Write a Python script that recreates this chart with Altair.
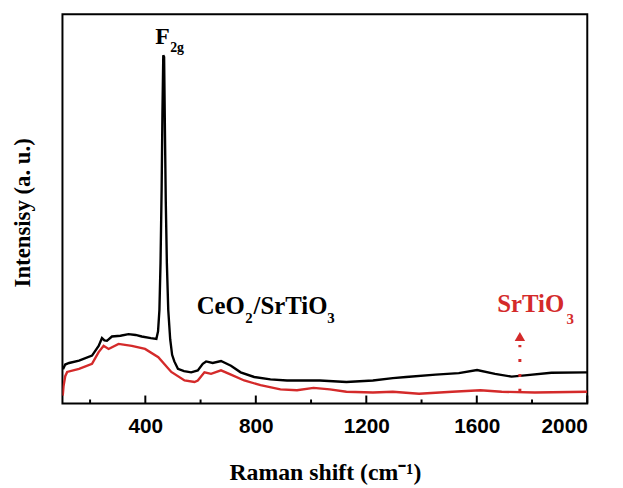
import altair as alt
import pandas as pd

# CeO2/SrTiO3 spectrum (black)
black_x = [102, 110, 124, 160, 207, 231, 243, 252, 261, 279, 310, 339, 365, 387, 420, 440,
           446, 451, 455, 459, 462, 465, 468, 471, 474, 478, 483, 490, 497, 505, 518, 540,
           566, 590, 608, 620, 644, 674, 710, 745, 794, 853, 913, 1032, 1128, 1224, 1296,
           1344, 1451, 1535, 1601, 1666, 1726, 1774, 1870, 2000]
black_y = [8.8, 10.0, 10.4, 11.0, 12.3, 14.8, 16.8, 16.2, 16.1, 17.2, 17.4, 17.8, 17.6, 17.2, 16.8, 16.6,
           18.5, 24, 36, 55, 75, 89.5, 89, 70, 52, 36, 24, 16.5, 12.5, 10.8, 8.9, 8.3,
           8.0, 8.5, 10.2, 10.8, 10.4, 10.9, 9.7, 8.0, 6.8, 6.2, 5.9, 5.9, 5.5, 5.9, 6.5,
           6.8, 7.4, 7.8, 8.6, 7.6, 6.9, 7.2, 7.9, 8.0]

# SrTiO3 spectrum (red)
red_x = [101, 104, 110, 117, 160, 207, 231, 249, 267, 303, 351, 399, 447, 494, 542, 578,
         590, 614, 638, 674, 710, 758, 817, 889, 949, 1009, 1068, 1128, 1224, 1296, 1391,
         1511, 1613, 1690, 1810, 2000]
red_y = [2.0, 4.5, 7.0, 8.1, 8.9, 10.2, 13.2, 14.8, 14.0, 15.3, 14.8, 14.0, 11.9, 8.1, 5.9, 5.5,
         5.9, 8.0, 7.6, 8.5, 7.4, 5.9, 4.7, 3.6, 3.4, 4.0, 3.6, 3.0, 2.8, 3.0, 2.5,
         3.0, 3.4, 3.0, 2.8, 3.0]

series_names = ["CeO2/SrTiO3", "SrTiO3"]
series_colors = ["#000000", "#d42a2a"]

tick_major = [400, 800, 1200, 1600, 2000]
tick_minor = [200, 600, 1000, 1400, 1800]

# annotation pieces (text, x, y, size, color)
ann_text = ["F", "2g", "CeO", "2", "/SrTiO", "3", "SrTiO", "3"]
ann_x = [436, 490, 586, 762, 792, 1059, 1674, 1925]
ann_y = [92.4, 90.3, 22.9, 20.6, 22.9, 20.6, 23.4, 20.4]
ann_size = [24, 14, 25, 15, 25, 15, 25, 15]
ann_color = ["#000000", "#000000", "#000000", "#000000", "#000000", "#000000", "#d42a2a", "#d42a2a"]

arrow_x = [1756]
arrow_y_low = [3.0]
arrow_y_high = [15.0]
arrow_head_y = [17.2]

df = pd.concat([
    pd.DataFrame({"x": black_x, "y": black_y, "series": series_names[0]}),
    pd.DataFrame({"x": red_x, "y": red_y, "series": series_names[1]}),
])
ann = pd.DataFrame({"text": ann_text, "x": ann_x, "y": ann_y, "size": ann_size, "color": ann_color})
arrow = pd.DataFrame({"x": arrow_x, "y": arrow_y_low, "y2": arrow_y_high, "yh": arrow_head_y})

W, H = 530, 393
xs = alt.Scale(domain=[100, 2000], nice=False, zero=False)
ys = alt.Scale(domain=[0, 100], nice=False, zero=False)

lines = alt.Chart(df).mark_line(strokeWidth=2.4, clip=True).encode(
    x=alt.X("x:Q", scale=xs, axis=alt.Axis(
        values=tick_major, format="d", title="Raman shift (cm⁻¹)", ticks=False, domain=False,
        grid=False, labelFont="Liberation Sans", labelFontWeight="bold", labelFontSize=21,
        labelColor="black", labelPadding=12, titleFont="Liberation Serif", titleFontSize=24,
        titleFontWeight="bold", titleColor="black", titleY=77, titleBaseline="alphabetic")),
    y=alt.Y("y:Q", scale=ys, axis=alt.Axis(
        title="Intensisy (a. u.)", labels=False, ticks=False, domain=False, grid=False,
        titleFont="Liberation Serif", titleFontSize=23, titleFontWeight="bold", titleColor="black",
        titleAngle=270, titleX=-40, titleY=200, titleAlign="center", titleBaseline="middle")),
    color=alt.Color("series:N", scale=alt.Scale(domain=series_names, range=series_colors), legend=None),
)

major = alt.Chart(pd.DataFrame({"x": tick_major})).mark_rule(color="black", strokeWidth=2).encode(
    x=alt.X("x:Q", scale=xs), y=alt.value(H), y2=alt.value(H - 8))
minor = alt.Chart(pd.DataFrame({"x": tick_minor})).mark_rule(color="black", strokeWidth=2).encode(
    x=alt.X("x:Q", scale=xs), y=alt.value(H), y2=alt.value(H - 4))

texts = alt.Chart(ann).mark_text(align="left", baseline="alphabetic", font="Liberation Serif",
                                 fontWeight="bold").encode(
    x=alt.X("x:Q", scale=xs), y=alt.Y("y:Q", scale=ys), text="text:N",
    size=alt.Size("size:Q", scale=None), color=alt.Color("color:N", scale=None))

arrow_line = alt.Chart(arrow).mark_rule(color="#d42a2a", strokeWidth=3, strokeDash=[3, 12]).encode(
    x=alt.X("x:Q", scale=xs), y=alt.Y("y:Q", scale=ys), y2="y2:Q")
arrow_head = alt.Chart(arrow).mark_point(shape="triangle-up", filled=True, color="#d42a2a",
                                         opacity=1, size=110).encode(
    x=alt.X("x:Q", scale=xs), y=alt.Y("yh:Q", scale=ys))

chart = alt.layer(lines, major, minor, texts, arrow_line, arrow_head).properties(
    width=W, height=H,
    padding={"left": 55, "top": 4, "right": 28, "bottom": 80},
    autosize=alt.AutoSizeParams(type="none"),
).configure_view(stroke="black", strokeWidth=2)

chart.save("out.html", embed_options={"renderer": "svg", "actions": False})
